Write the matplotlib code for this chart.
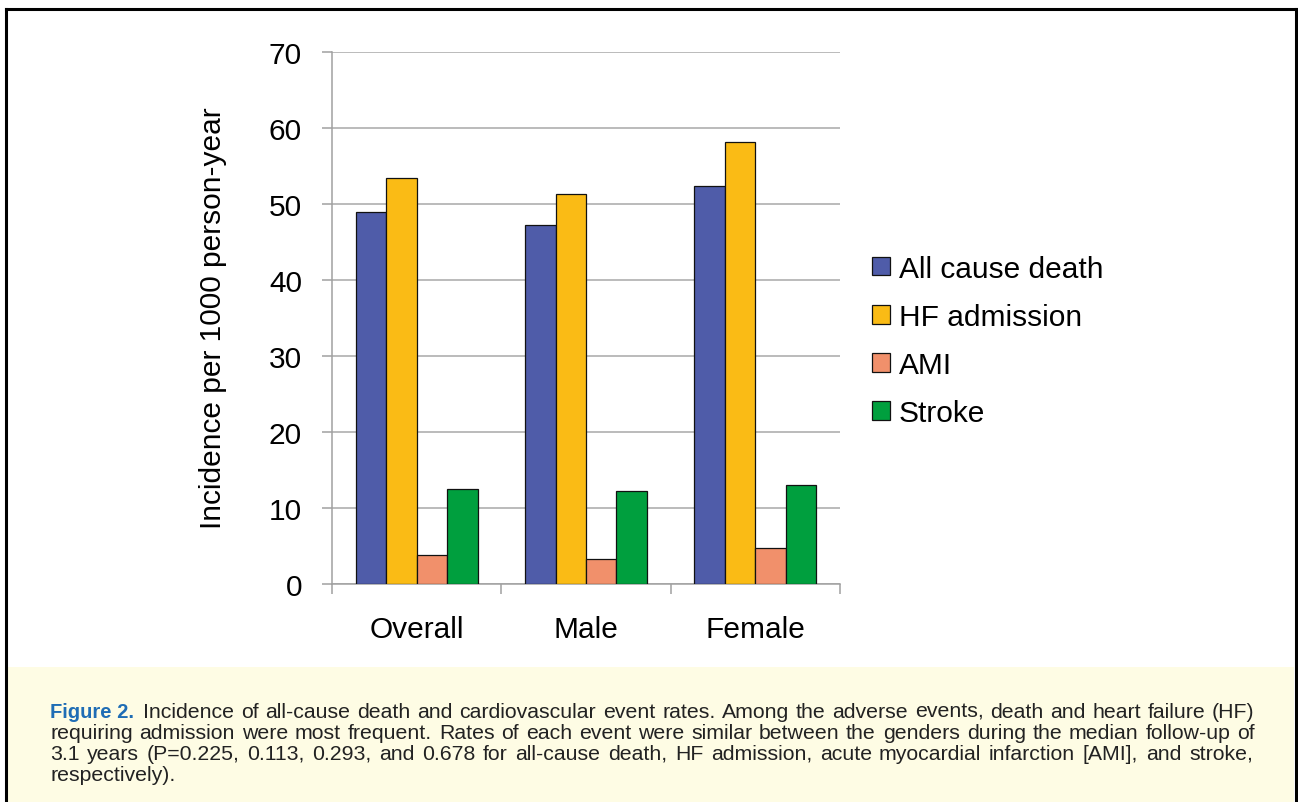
import matplotlib
matplotlib.use('Agg')
import matplotlib.pyplot as plt
import numpy as np
from matplotlib import font_manager
from matplotlib.patches import Rectangle
from matplotlib.lines import Line2D
from matplotlib.transforms import IdentityTransform

# ---- data ----
categories = ['Overall', 'Male', 'Female']
series_names = ['All cause death', 'HF admission', 'AMI', 'Stroke']
all_cause_death = [48.9, 47.2, 52.4]
hf_admission = [53.4, 51.3, 58.2]
ami = [3.8, 3.35, 4.7]
stroke = [12.5, 12.2, 13.0]
yticks = [0, 10, 20, 30, 40, 50, 60, 70]
ylabel = 'Incidence per 1000 person-year'
colors = ['#4F5CA9', '#FABB15', '#F1906B', '#009F3E']

caption_lines = [
    "Incidence of all-cause death and cardiovascular event rates. Among the adverse events, death and heart failure (HF)",
    "requiring admission were most frequent. Rates of each event were similar between the genders during the median follow-up of",
    "3.1 years (P=0.225, 0.113, 0.293, and 0.678 for all-cause death, HF admission, acute myocardial infarction [AMI], and stroke,",
    "respectively).",
]

W, H = 1298, 803
plt.rcParams['font.family'] = ['Liberation Sans', 'DejaVu Sans']

avail = {f.name for f in font_manager.fontManager.ttflist}
if 'Liberation Sans Narrow' in avail:
    cap_family = 'Liberation Sans Narrow'
    cap_size = 17
    fig_size = 17
else:
    cap_family = 'Liberation Sans'
    cap_size = 15.3
    fig_size = 14.5

fig = plt.figure(figsize=(W / 100, H / 100), dpi=100)
fig.patch.set_facecolor('white')

# caption band
fig.add_artist(Rectangle((8 / W, 0), (1294 - 8) / W, (803 - 668) / H,
                         transform=fig.transFigure, facecolor='#FEFCE4',
                         edgecolor='none', zorder=0))
# frame
fig.add_artist(Line2D([6 / W, 6 / W], [0, 1 - 10 / H], transform=fig.transFigure,
                      color='black', lw=2.2))
fig.add_artist(Line2D([6 / W, 1296 / W], [1 - 10 / H, 1 - 10 / H], transform=fig.transFigure,
                      color='black', lw=2.2))
fig.add_artist(Line2D([1296 / W, 1296 / W], [0, 1 - 10 / H], transform=fig.transFigure,
                      color='black', lw=2.2))

ax = fig.add_axes([332 / W, 1 - 585 / H, 508 / W, 532 / H])
x = np.arange(len(categories))
bw = 0.18
data = [all_cause_death, hf_admission, ami, stroke]
for i, (vals, name, c) in enumerate(zip(data, series_names, colors)):
    ax.bar(x + (i - 1.5) * bw, vals, width=bw, color=c, edgecolor='#111111',
           linewidth=0.9, label=name, zorder=3)

ax.set_xlim(-0.5, len(categories) - 0.5)
ax.set_ylim(0, 70)
ax.set_yticks(yticks)
ax.set_yticklabels([str(v) for v in yticks])
ax.yaxis.grid(True, color='#A8A8A8', linewidth=1.1, zorder=0)
ax.set_axisbelow(True)
for s in ['top', 'right']:
    ax.spines[s].set_visible(False)
for s in ['left', 'bottom']:
    ax.spines[s].set_color('#A0A0A0')
    ax.spines[s].set_linewidth(1.1)
ax.tick_params(axis='y', direction='out', length=7.2, width=1.1, color='#A0A0A0',
               labelsize=21.5, pad=14.4)
ax.set_xticks(np.arange(len(categories) + 1) - 0.5)
ax.set_xticklabels([])
ax.set_xticks(x, minor=True)
ax.set_xticklabels(categories, minor=True)
ax.tick_params(axis='x', which='major', direction='out', length=7.2, width=1.1, color='#A0A0A0')
ax.tick_params(axis='x', which='minor', length=0, labelsize=21.5, pad=22.5)

fig.text(213 / W, 1 - 318 / H, ylabel, rotation=90, ha='center', va='center', fontsize=21.5)

ax.legend(loc='center left', bbox_to_anchor=(872 / W, 1 - 342 / H), bbox_transform=fig.transFigure,
          frameon=False, fontsize=21.5, handlelength=0.6, handleheight=0.6, handletextpad=0.3,
          labelspacing=0.68, borderpad=0, borderaxespad=0)

# caption with justification
renderer = fig.canvas.get_renderer()
idt = IdentityTransform()


def place_line(text, x0, x1, ybase, justify=True):
    words = text.split(' ')
    ts = [fig.text(0, 0, w, transform=idt, fontsize=cap_size, family=[cap_family, 'DejaVu Sans'],
                   color='#222222', va='baseline', ha='left') for w in words]
    widths = [t.get_window_extent(renderer).width for t in ts]
    sp = fig.text(0, 0, 'a a', transform=idt, fontsize=cap_size, family=[cap_family, 'DejaVu Sans'])
    sa = fig.text(0, 0, 'aa', transform=idt, fontsize=cap_size, family=[cap_family, 'DejaVu Sans'])
    natural = sp.get_window_extent(renderer).width - sa.get_window_extent(renderer).width
    sp.remove(); sa.remove()
    if justify and len(ts) > 1:
        gap = (x1 - x0 - sum(widths)) / (len(ts) - 1)
        gap = max(gap, natural * 0.6)
    else:
        gap = natural
    xx = x0
    for t, w in zip(ts, widths):
        t.set_position((round(xx), H - ybase))
        xx += w + gap


fig.text(50, H - 718, 'Figure 2.', transform=idt, fontsize=fig_size, fontweight='bold',
         family=[cap_family, 'DejaVu Sans'], color='#1F6DB5', va='baseline', ha='left')
place_line(caption_lines[0], 143, 1255, 718)
place_line(caption_lines[1], 50, 1255, 739)
place_line(caption_lines[2], 50, 1253, 760)
place_line(caption_lines[3], 50, 1253, 781, justify=False)

fig.savefig('out.png', dpi=100)
